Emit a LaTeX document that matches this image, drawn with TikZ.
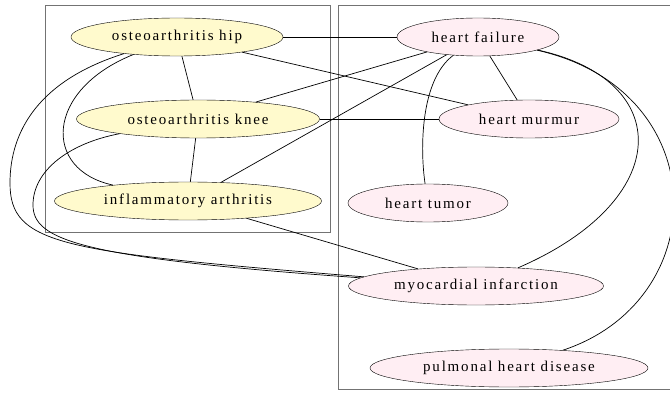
\documentclass[tikz,border=0pt]{standalone}
\usepackage{fontspec}
\setmainfont{Liberation Serif}[LetterSpace=12]
\usepackage{tikz}
\usetikzlibrary{shapes.geometric}

\definecolor{jointfill}{RGB}{255,250,205}
\definecolor{heartfill}{RGB}{255,238,243}

\begin{document}
\begin{tikzpicture}[x=1pt, y=-1pt,
      every node/.style = {shape=ellipse, draw, inner sep=0pt,
        minimum height=38pt, font=\fontsize{15}{17}\selectfont},
      joint/.style = {fill=jointfill},
      heart/.style = {fill=heartfill},
      cluster/.style = {draw=black!55, line width=0.9pt},
      edge/.style = {line width=0.7pt}
    ]
      \useasboundingbox (0,0) rectangle (670,401);
      % the two groups
      \draw[cluster] (45,5) rectangle (330,232);
      \draw[cluster] (338,5) rectangle (673,389);

      \node[joint, minimum width=212pt] (hip) at (177,37) {osteoarthritis hip};
      \node[joint, minimum width=243pt] (knee) at (198,119) {osteoarthritis knee};
      \node[joint, minimum width=267pt] (infl) at (188,201) {inflammatory arthritis};

      \node[heart, minimum width=162pt] (failure) at (478,37) {heart failure};
      \node[heart, minimum width=180pt] (murmur) at (529,119) {heart murmur};
      \node[heart, minimum width=160pt] (tumor) at (428,203) {heart tumor};
      \node[heart, minimum width=255pt] (infarct) at (476,286) {myocardial infarction};
      \node[heart, minimum width=278pt] (pulmonal) at (509,368) {pulmonal heart disease};

      \draw[edge] (hip) -- (failure);
      \draw[edge] (hip) -- (murmur);
      \draw[edge] (hip) -- (knee);
      \draw[edge] (knee) -- (failure);
      \draw[edge] (knee) -- (murmur);
      \draw[edge] (knee) -- (infl);
      \draw[edge] (infl) -- (failure);
      \draw[edge] (infl) -- (infarct);
      \draw[edge] (failure) -- (murmur);

      % bent ones
      \draw[edge] (hip) .. controls (45,90) and (42,170) .. (infl);
      \draw[edge] (hip) .. controls (40,80) and (10,130) .. (10,183)
                        .. controls (10,245) and (60,252) .. (infarct);
      \draw[edge] (knee) .. controls (70,143) and (33,170) .. (33,205)
                         .. controls (33,240) and (80,258) .. (infarct);
      \draw[edge] (failure) .. controls (420,80) and (420,150) .. (tumor);
      \draw[edge] (failure) .. controls (675,80) and (675,200) .. (infarct);
      \draw[edge] (failure) .. controls (715,90) and (715,300) .. (pulmonal);
    \end{tikzpicture}
\end{document}
